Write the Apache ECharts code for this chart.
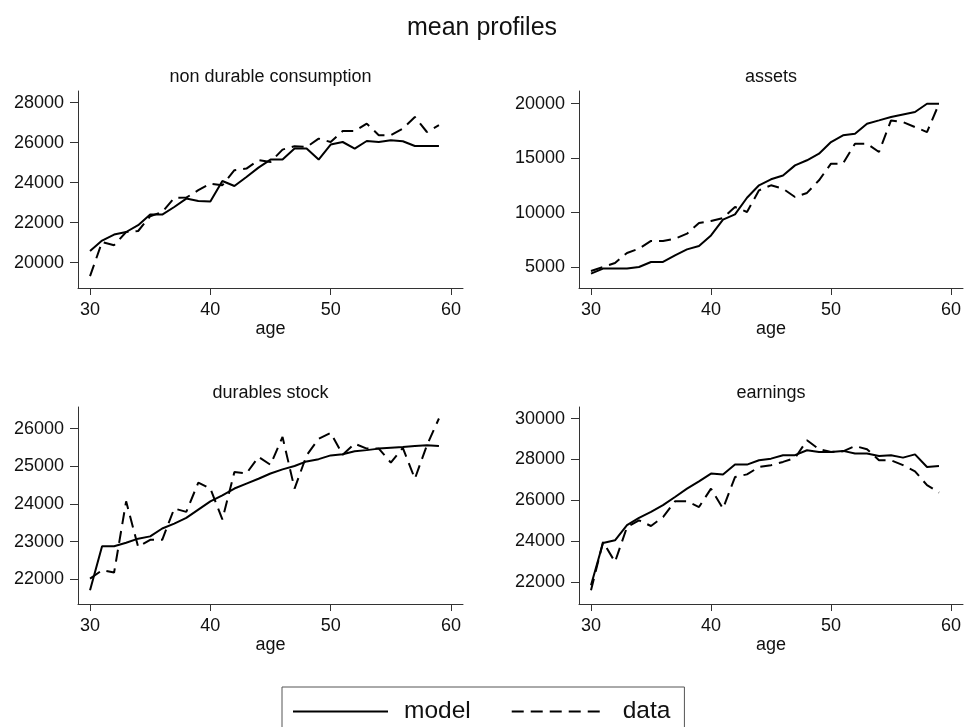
<!DOCTYPE html>
<html>
<head>
<meta charset="utf-8">
<title>mean profiles</title>
<script src="https://cdn.jsdelivr.net/npm/echarts@6.0.0/dist/echarts.min.js"></script>
<style>
html,body{margin:0;padding:0;background:#fff;}
#main{width:965px;height:727px;}
</style>
</head>
<body>
<div id="main"></div>
<script>
// 年龄 (x轴)
var ages = [30,31,32,33,34,35,36,37,38,39,40,41,42,43,44,45,46,47,48,49,50,51,52,53,54,55,56,57,58,59];
var ageTicks = [30,40,50,60];

// non durable consumption
var ndcModel = [20580,21100,21400,21530,21870,22400,22400,22780,23200,23080,23050,24080,23830,24280,24750,25150,25150,25700,25700,25150,25900,26030,25700,26080,26030,26120,26070,25830,25830,25830];
var ndcData  = [19320,21030,20870,21530,21580,22320,22530,23230,23250,23620,23950,23870,24620,24700,25120,25030,25650,25820,25780,26200,26030,26580,26580,26950,26370,26370,26700,27280,26530,26870];
var ndcTicks = [20000,22000,24000,26000,28000];

// assets
var assetsModel = [4390,4850,4850,4850,5000,5460,5460,6070,6620,6930,7900,9350,9830,11360,12500,13050,13400,14330,14800,15400,16470,17090,17240,18160,18460,18770,19010,19230,19990,19990];
var assetsData  = [4630,5000,5370,6290,6680,7390,7390,7600,8060,9040,9220,9500,10510,10050,12040,12500,12190,11430,11800,12960,14490,14490,16320,16320,15560,18460,18310,17850,17390,19990];
var assetsTicks = [5000,10000,15000,20000];

// durables stock
var durModel = [21710,22880,22880,22970,23080,23140,23350,23480,23630,23850,24070,24230,24410,24540,24670,24810,24920,25010,25130,25190,25290,25320,25400,25430,25470,25490,25510,25540,25560,25540];
var durData  = [22020,22240,22180,24070,22860,23050,23050,23880,23790,24570,24410,23590,24850,24810,25250,25040,25780,24410,25290,25730,25890,25310,25600,25470,25470,25100,25490,24670,25560,26270];
var durTicks = [22000,23000,24000,25000,26000];

// earnings
var earnModel = [21840,23910,24040,24780,25140,25430,25760,26160,26570,26930,27310,27260,27750,27750,27960,28040,28210,28210,28450,28370,28370,28420,28290,28290,28170,28210,28090,28250,27630,27680];
var earnData  = [21590,23960,22980,24690,25020,24740,25180,25950,25950,25670,26570,25590,27140,27270,27630,27720,27880,28070,28940,28500,28370,28400,28660,28500,27960,27960,27720,27420,26740,26380];
var earnTicks = [22000,24000,26000,28000,30000];

var FONT = 'Liberation Sans';
var TXT = '#111';
var AXC = '#333';

initPage();

/**
 * 初始化页面
 */
function initPage(){
	var panels = [
		{title:'non durable consumption', model:ndcModel, data:ndcData, ticks:ndcTicks, min:18730, max:28580, left:78, top:91, width:385},
		{title:'assets', model:assetsModel, data:assetsData, ticks:assetsTicks, min:3070, max:21160, left:579, top:91, width:384},
		{title:'durables stock', model:durModel, data:durData, ticks:durTicks, min:21345, max:26575, left:78, top:407, width:385},
		{title:'earnings', model:earnModel, data:earnData, ticks:earnTicks, min:20920, max:30570, left:579, top:407, width:384}
	];
	buildEchart(panels);
}

// 年龄和数值配对
function pairs(values){
	var out = [];
	for(var i=0;i<ages.length;i++){
		out.push([ages[i], values[i]]);
	}
	return out;
}

/**
 * echarts
 */
function buildEchart(panels){
	var myChart = echarts.init(document.getElementById('main'));
	var titles = [{
		text:'mean profiles', left:482, top:16, textAlign:'center', padding:0,
		textStyle:{fontFamily:FONT, fontSize:25, fontWeight:'normal', color:TXT}
	}];
	var grids = [], xAxes = [], yAxes = [], series = [];
	var height = 197;
	var plain = function(v){ return String(v); }; //不要千位分隔符

	for(var i=0;i<panels.length;i++){
		var p = panels[i];
		titles.push({
			text:p.title, left:p.left + p.width/2, top:p.top - 23, textAlign:'center', padding:0,
			textStyle:{fontFamily:FONT, fontSize:18, fontWeight:'normal', color:TXT}
		});
		grids.push({left:p.left, top:p.top, width:p.width, height:height, containLabel:false});
		xAxes.push({
			type:'value', gridIndex:i, min:29, max:61,
			name:'age', nameLocation:'middle', nameGap:29,
			nameTextStyle:{fontFamily:FONT, fontSize:18, color:TXT},
			axisLine:{show:true, onZero:false, lineStyle:{color:AXC, width:1}},
			axisTick:{show:true, length:7, customValues:ageTicks, lineStyle:{color:AXC}},
			axisLabel:{customValues:ageTicks, formatter:plain, fontFamily:FONT, fontSize:18, color:TXT, margin:13},
			splitLine:{show:false}
		});
		yAxes.push({
			type:'value', gridIndex:i, min:p.min, max:p.max,
			axisLine:{show:true, onZero:false, lineStyle:{color:AXC, width:1}},
			axisTick:{show:true, length:8, customValues:p.ticks, lineStyle:{color:AXC}},
			axisLabel:{customValues:p.ticks, formatter:plain, fontFamily:FONT, fontSize:18, color:TXT, margin:14},
			splitLine:{show:false}
		});
		series.push({
			name:'model', type:'line', xAxisIndex:i, yAxisIndex:i, data:pairs(p.model),
			symbol:'none', lineStyle:{color:'#000', width:2, type:'solid'}, itemStyle:{color:'#000'}
		});
		series.push({
			name:'data', type:'line', xAxisIndex:i, yAxisIndex:i, data:pairs(p.data),
			symbol:'none', lineStyle:{color:'#000', width:2, type:[12,7]}, itemStyle:{color:'#000'}
		});
	}

	var option = {
		backgroundColor:'#fff',
		animation:false,
		title:titles,
		grid:grids,
		xAxis:xAxes,
		yAxis:yAxes,
		legend:{
			data:['model','data'],
			left:282, top:687,
			itemWidth:95, itemHeight:14, itemGap:40,
			itemStyle:{opacity:0},
			borderColor:'#555', borderWidth:1,
			padding:[12,14,30,10],
			textStyle:{fontFamily:FONT, fontSize:24.5, color:TXT, padding:[0,0,0,11]}
		},
		series:series
	};
	myChart.setOption(option);
}
</script>
</body>
</html>
